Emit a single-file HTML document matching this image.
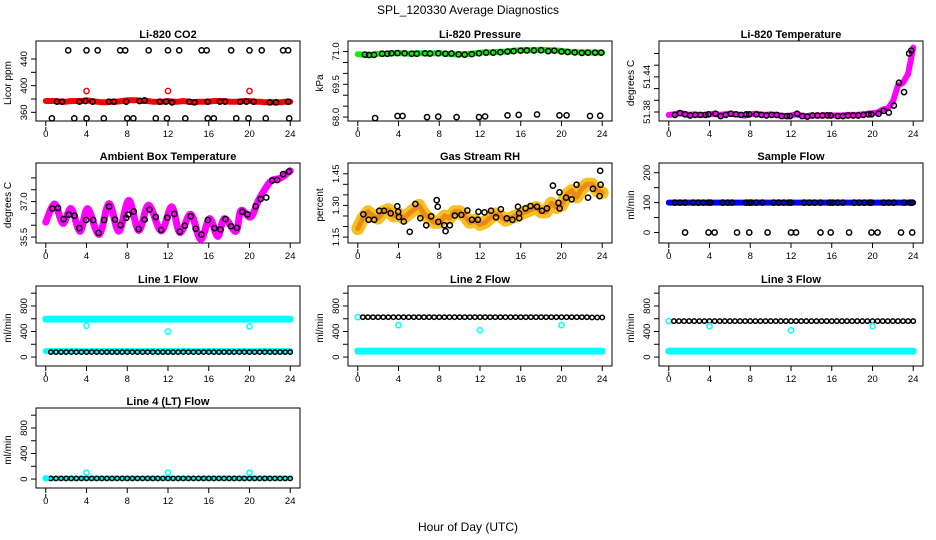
<!DOCTYPE html>
<html><head><meta charset="utf-8"><style>
body{margin:0;background:#fff;}
svg{display:block;font-family:"Liberation Sans",sans-serif;}
</style></head><body>
<svg id="chart" width="936" height="540" viewBox="0 0 936 540" xmlns="http://www.w3.org/2000/svg">
<rect x="0" y="0" width="936" height="540" fill="#fff"/>
<text x="468" y="14" font-size="12" text-anchor="middle">SPL_120330  Average Diagnostics</text>
<text x="468" y="531" font-size="12" text-anchor="middle">Hour of Day (UTC)</text>
</svg>
<script>
const HOURS=[0,0.5,1,1.5,2,2.5,3,3.5,4,4.5,5,5.5,6,6.5,7,7.5,8,8.5,9,9.5,10,10.5,11,11.5,12,12.5,13,13.5,14,14.5,15,15.5,16,16.5,17,17.5,18,18.5,19,19.5,20,20.5,21,21.5,22,22.5,23,23.5,24];
const X_TICKS=[0,4,8,12,16,20,24];
// CO2
const co2Red=[377,377,377,376,376,377,377,377,378,377,376,375,375,376,376,377,378,378,378,377,377,376,376,376,377,376,376,377,376,375,376,376,376,377,377,377,376,376,376,377,377,376,376,375,375,375,375,376,376];
const co2BlackHours=[1.1,1.6,3.3,3.9,4.6,6.2,6.7,7.9,9.2,9.7,11.2,11.8,12.4,14.1,14.6,15.9,17.1,17.6,19.1,19.7,20.4,22,22.6,23.8,2.2,4,5.1,7.3,7.8,10.1,12,13.1,15.3,15.8,18.2,20,21.2,23.3,23.8,0.6,2.8,4,5.7,8,8.6,10.8,11.9,13.7,15.9,16.5,18.7,19.9,21.6,23.9];
const co2BlackValues=[376,376,376,377,376,376,376,376,377,378,376,376,375,376,375,376,376,376,376,376,376,375,375,376,453,453,453,453,453,453,453,453,453,453,453,453,453,453,453,351,351,351,351,351,351,351,351,351,351,351,351,351,351,351];
const co2OutHours=[4,12,20];
const co2OutValues=[392,392,392];
// Pressure
const pressGreen=[70.88,70.86,70.85,70.86,70.9,70.9,70.91,70.92,70.93,70.92,70.9,70.91,70.93,70.92,70.9,70.92,70.93,70.91,70.89,70.87,70.88,70.87,70.9,70.92,70.95,70.96,70.96,70.98,70.99,71.0,71.02,71.05,71.06,71.07,71.06,71.07,71.08,71.07,71.06,71.05,71.03,71.0,70.98,70.97,70.96,70.96,70.95,70.95,70.95];
const pressBlackHours=[0.7,1.1,1.6,2.4,2.9,3.3,3.9,4.6,5.3,5.8,6.6,7.1,7.9,8.6,9.2,9.9,10.5,11.2,11.9,12.6,13.3,14.0,14.7,15.3,16.0,16.6,17.3,18.0,18.7,19.3,20.0,20.6,21.3,22.0,22.6,23.3,23.9,1.7,3.9,4.4,6.8,7.9,9.7,11.9,12.5,14.7,15.8,17.6,19.8,20.5,22.8,23.8];
const pressBlackValues=[70.86,70.84,70.85,70.9,70.9,70.92,70.93,70.92,70.9,70.9,70.92,70.91,70.92,70.9,70.91,70.87,70.86,70.88,70.92,70.95,70.95,70.97,71.0,71.02,71.04,71.05,71.05,71.06,71.02,71.04,71.0,70.98,70.96,70.94,70.95,70.95,70.95,67.95,68.05,68.05,68.0,68.02,68.0,68.0,68.03,68.08,68.1,68.12,68.08,68.08,68.05,68.06];
// Li-820 temperature
const tempMag=[51.375,51.376,51.378,51.377,51.375,51.376,51.375,51.375,51.376,51.377,51.375,51.376,51.377,51.376,51.375,51.374,51.376,51.377,51.376,51.375,51.376,51.375,51.374,51.373,51.374,51.376,51.374,51.373,51.374,51.374,51.374,51.375,51.374,51.374,51.374,51.375,51.375,51.375,51.376,51.377,51.378,51.379,51.384,51.386,51.398,51.425,51.43,51.445,51.49];
const tempBlackHours=[0.6,1.1,1.6,2.1,2.6,3.1,3.6,3.9,4.6,5.1,5.6,6.1,6.6,7.1,7.6,7.9,8.6,9.1,9.6,10.1,10.6,11.1,11.6,11.9,12.6,13.1,13.6,14.1,14.6,15.1,15.6,15.9,16.6,17.1,17.6,18.1,18.6,19.1,19.6,19.9,20.6,21.1,21.6,22.1,22.6,23.1,23.6,23.8];
const tempBlackValues=[51.375,51.378,51.376,51.374,51.375,51.375,51.375,51.376,51.377,51.373,51.375,51.377,51.376,51.375,51.376,51.376,51.376,51.375,51.374,51.375,51.375,51.373,51.373,51.373,51.377,51.373,51.372,51.374,51.374,51.374,51.374,51.374,51.373,51.373,51.374,51.374,51.374,51.375,51.376,51.376,51.377,51.382,51.379,51.391,51.43,51.414,51.48,51.485];
// Ambient box temperature
const ambHours=[0,0.87,1.68,2.49,3.37,4.11,5.24,6.21,7.18,8.15,9.12,10.1,11.33,12.36,13.17,14.24,15.21,16.08,16.89,17.54,18.67,19.16,20.13,20.94,22.07,23.04,24];
const ambValues=[36.13,36.9,36.08,36.7,35.74,36.7,35.61,36.91,35.75,37.05,35.78,36.85,35.76,36.78,35.69,36.46,35.4,36.28,35.53,36.28,35.74,36.62,36.35,37.1,37.85,37.99,38.3];
const ambBlackHours=[0.65,1.2,1.75,2.27,2.82,3.3,3.95,4.66,5.18,5.73,6.21,6.8,7.35,7.9,8.09,8.64,9.12,9.71,10.19,10.81,11.33,11.94,12.62,13.17,13.66,14.24,14.72,15.28,15.92,16.57,17.15,17.64,18.19,18.77,19.29,19.81,20.61,21.1,21.65,22.23,22.72,23.3,23.88];
const ambBlackValues=[36.7,36.73,36.26,36.45,36.4,35.88,36.22,36.22,35.68,36.22,36.79,36.24,36.01,36.31,36.45,36.58,35.84,36.24,36.66,36.35,35.8,36.32,36.48,35.73,35.98,36.38,35.85,35.61,36.22,35.88,35.82,36.26,35.96,35.89,36.57,36.46,36.8,37.11,37.17,37.89,37.91,38.16,38.27];
// Gas stream RH
const rhBand=[1.19,1.24,1.27,1.25,1.24,1.27,1.28,1.25,1.26,1.24,1.26,1.28,1.3,1.26,1.24,1.22,1.22,1.25,1.24,1.27,1.27,1.25,1.22,1.23,1.21,1.22,1.24,1.26,1.25,1.23,1.24,1.25,1.26,1.27,1.28,1.29,1.27,1.27,1.31,1.29,1.3,1.35,1.37,1.34,1.38,1.4,1.4,1.37,1.36];
const rhBlackHours=[0.55,1.07,1.61,2.1,2.58,3.23,3.88,3.97,4.04,4.52,5.1,5.65,6.14,6.72,7.2,7.75,7.85,7.91,8.49,8.62,9.04,9.53,10.17,10.76,11.21,11.79,11.85,12.44,13.08,13.57,14.05,14.63,15.18,15.73,15.83,15.85,16.47,16.96,17.6,18.09,18.57,19.16,19.7,19.8,19.82,20.45,21.0,21.48,22.61,23.09,23.8,23.84,23.74];
const rhBlackValues=[1.258,1.232,1.232,1.274,1.275,1.263,1.296,1.27,1.245,1.224,1.175,1.307,1.24,1.206,1.248,1.325,1.294,1.222,1.206,1.178,1.206,1.252,1.255,1.276,1.232,1.232,1.27,1.267,1.275,1.244,1.282,1.239,1.232,1.294,1.263,1.24,1.286,1.297,1.294,1.275,1.286,1.394,1.312,1.362,1.286,1.337,1.329,1.398,1.337,1.379,1.464,1.398,1.344];
// Sample flow
const sampleBlue=[100,100,100,100,100,100,100,100,100,100,100,100,100,100,100,100,100,100,100,100,100,100,100,100,100,100,100,100,100,100,100,100,100,100,100,100,100,100,100,100,100,100,100,100,100,100,100,100,100];
const sampleBlackHours=[0.6,1.1,1.6,2.4,2.9,3.4,3.9,4.1,5.3,5.8,6.2,7.6,7.9,8.1,8.6,9.2,10.3,10.8,11.3,11.8,12.0,13.3,13.8,14.3,14.9,15.8,16.1,16.6,17.1,18.2,18.7,19.2,19.7,19.9,21.1,21.6,22.1,23.1,23.7,23.9,1.6,3.9,4.5,6.7,7.9,9.7,12.0,12.5,14.9,15.9,17.7,19.9,20.5,22.8,23.9];
const sampleBlackValues=[100,100,100,100,100,100,100,100,100,100,100,100,100,100,100,100,100,100,100,100,100,100,100,100,100,100,100,100,100,100,100,100,100,100,100,100,100,100,100,100,0,0,0,0,0,0,0,0,0,0,0,0,0,0,0];
// Line flows
const line1Upper=[594,594,594,594,594,594,594,594,594,594,594,594,594,594,594,594,594,594,594,594,594,594,594,594,594,594,594,594,594,594,594,594,594,594,594,594,594,594,594,594,594,594,594,594,594,594,594,594,594];
const line1Lower=[94,94,94,94,94,94,94,94,94,94,94,94,94,94,94,94,94,94,94,94,94,94,94,94,94,94,94,94,94,94,94,94,94,94,94,94,94,94,94,94,94,94,94,94,94,94,94,94,94];
const line1Black=[78,78,78,78,78,78,78,78,78,78,78,78,78,78,78,78,78,78,78,78,78,78,78,78,78,78,78,78,78,78,78,78,78,78,78,78,78,78,78,78,78,78,78,78,78,78,78,78,78];
const line1OutValues=[490,400,480];
const line2Lower=[94,94,94,94,94,94,94,94,94,94,94,94,94,94,94,94,94,94,94,94,94,94,94,94,94,94,94,94,94,94,94,94,94,94,94,94,94,94,94,94,94,94,94,94,94,94,94,94,94];
const line2Black=[625,625,625,625,625,625,625,625,625,625,625,625,625,625,625,625,625,625,625,625,625,625,625,625,625,625,625,625,625,625,625,625,625,625,625,625,625,625,625,625,625,625,625,625,625,625,620,620,620];
const line2OutValues=[500,420,500];
const line3Lower=[94,94,94,94,94,94,94,94,94,94,94,94,94,94,94,94,94,94,94,94,94,94,94,94,94,94,94,94,94,94,94,94,94,94,94,94,94,94,94,94,94,94,94,94,94,94,94,94,94];
const line3Black=[563,563,563,563,563,563,563,563,563,563,563,563,563,563,563,563,563,563,563,563,563,563,563,563,563,563,563,563,563,563,563,563,563,563,563,563,563,563,563,563,563,563,563,563,563,563,563,563,563];
const line3OutValues=[484,420,484];
const line4Lower=[12,12,12,12,12,12,12,12,12,12,12,12,12,12,12,12,12,12,12,12,12,12,12,12,12,12,12,12,12,12,12,12,12,12,12,12,12,12,12,12,12,12,12,12,12,12,12,12,12];
const line4Black=[10,10,10,10,10,10,10,10,10,10,10,10,10,10,10,10,10,10,10,10,10,10,10,10,10,10,10,10,10,10,10,10,10,10,10,10,10,10,10,10,10,10,10,10,10,10,10,10,10];
const line4OutValues=[100,100,100];
const flowOutHours=[4,12,20];

const NS="http://www.w3.org/2000/svg";
const svg=document.getElementById('chart');
const COLX=[36,348,659], ROWY=[45,167,290,412], PW=264, PH=76;
function mk(tag,attrs,parent){const e=document.createElementNS(NS,tag);for(const k in attrs)e.setAttribute(k,attrs[k]);(parent||svg).appendChild(e);return e;}
function fmt(v,d){return v.toFixed(d);}
function panel(name,col,row,title,ylab,ylim,yticks,ylabels,dec){
  const x0=COLX[col],y0=ROWY[row];
  const g=mk('g',{});
  
  
  const sx=h=>x0+(h+0.96)/25.92*PW;
  const sy=v=>y0+PH-(v-ylim[0])/(ylim[1]-ylim[0])*PH;
  const t=mk('text',{x:x0+PW/2,y:y0-7,'font-size':11,'font-weight':'bold','text-anchor':'middle'},g);t.textContent=title;
  
  
  const yl=mk('text',{x:0,y:0,'font-size':10,'text-anchor':'middle',transform:`translate(${x0-25},${y0+PH/2}) rotate(-90)`},g);yl.textContent=ylab;
  
  
  const ax=mk('g',{stroke:'#000','stroke-width':1,fill:'none'},g);
  
  
  mk('path',{d:`M${sx(0)} ${y0+PH+6}V${y0+PH+10}`},ax);
  X_TICKS.forEach(h=>{mk('line',{x1:sx(h),x2:sx(h),y1:y0+PH,y2:y0+PH+5},ax);
    const l=mk('text',{x:sx(h),y:y0+PH+16,'font-size':9.5,'text-anchor':'middle',fill:'#000',stroke:'none'},g);l.textContent=h;
    
    });
  mk('line',{x1:sx(0),x2:sx(24),y1:y0+PH,y2:y0+PH},ax);
  mk('line',{x1:x0,x2:x0,y1:sy(yticks[0]),y2:sy(yticks[yticks.length-1])},ax);
  yticks.forEach(v=>{mk('line',{x1:x0-5,x2:x0,y1:sy(v),y2:sy(v)},ax);});
  ylabels.forEach(v=>{const l=mk('text',{x:0,y:0,'font-size':9.5,'text-anchor':'middle',transform:`translate(${x0-9},${sy(v)}) rotate(-90)`},g);l.textContent=fmt(v,dec);
    
    });
  mk('rect',{x:x0,y:y0-4,width:PW,height:PH+4,fill:'none',stroke:'#000','stroke-width':1},g);
  const plot=mk('g',{},g);
  return {sx,sy,g:plot};
}
function band(p,hs,vs,color,w,name){
  const pts=hs.map((h,i)=>p.sx(h).toFixed(1)+','+p.sy(vs[i]).toFixed(1)).join(' ');
  const e=mk('polyline',{points:pts,fill:'none',stroke:color,'stroke-width':w,'stroke-linecap':'round','stroke-linejoin':'round'},p.g);
  
  
}
function smooth(p,hs,vs,color,w,name){
  const P=hs.map((h,i)=>[p.sx(h),p.sy(vs[i])]);
  let d=`M${P[0][0]},${P[0][1]}`;
  for(let i=0;i<P.length-1;i++){const a=P[Math.max(0,i-1)],b=P[i],c=P[i+1],e2=P[Math.min(P.length-1,i+2)];
    d+=` C${b[0]+(c[0]-a[0])/6},${b[1]+(c[1]-a[1])/6} ${c[0]-(e2[0]-b[0])/6},${c[1]-(e2[1]-b[1])/6} ${c[0]},${c[1]}`;}
  const e=mk('path',{d,fill:'none',stroke:color,'stroke-width':w,'stroke-linecap':'round'},p.g);
  
  
}
function circles(p,hs,vs,color,name,r){
  hs.forEach((h,i)=>{const c=mk('circle',{cx:p.sx(h),cy:p.sy(vs[i]),r:r||2.6,fill:'none',stroke:color,'stroke-width':1.5},p.g);
    
    });
}
const FT=[0,200,400,600,800,1000], FL=[0,400,800], FLIM=[-140,1050];
const HB=HOURS.slice(1);
// CO2
let p=panel('co2',0,0,'Li-820 CO2','Licor ppm',[347,461],[360,380,400,420,440],[360,400,440],0);
band(p,HOURS,co2Red,'#f00',6,'co2-red-series');
circles(p,co2OutHours,co2OutValues,'#f00','co2-red-outlier');
circles(p,co2BlackHours,co2BlackValues,'#000','co2-black-point');
// Pressure
p=panel('pressure',1,0,'Li-820 Pressure','kPa',[67.82,71.3],[68,68.5,69,69.5,70,70.5,71],[68,69.5,71],1);
band(p,HOURS,pressGreen,'#1e1',6,'pressure-green-series');
circles(p,pressBlackHours,pressBlackValues,'#000','pressure-black-point');
// Temperature
p=panel('li820-temp',2,0,'Li-820 Temperature','degrees C',[51.3646,51.4945],[51.38,51.40,51.42,51.44,51.46,51.48],[51.38,51.44],2);
band(p,HOURS,tempMag,'#f0f',6,'temp-magenta-series');
circles(p,tempBlackHours,tempBlackValues,'#000','temp-black-point');
// Ambient
p=panel('ambient',0,1,'Ambient Box Temperature','degrees C',[35.25,38.46],[35.5,36,36.5,37,37.5,38],[35.5,37.0],1);
smooth(p,ambHours,ambValues,'#f0f',7,'ambient-magenta-series');
circles(p,ambBlackHours,ambBlackValues,'#000','ambient-black-point');
// RH
p=panel('rh',1,1,'Gas Stream RH','percent',[1.122,1.482],[1.15,1.2,1.25,1.3,1.35,1.4,1.45],[1.15,1.30,1.45],2);
band(p,HOURS,rhBand,'#f5c020',13,'rh-band');
band(p,HOURS,rhBand,'#ec8a18',5,'rh-band-core');
circles(p,rhBlackHours,rhBlackValues,'#000','rh-black-point');
// Sample flow
p=panel('sample-flow',2,1,'Sample Flow','ml/min',[-35,219],[0,50,100,150,200],[0,100,200],0);
band(p,HOURS,sampleBlue,'#00f',6,'sample-blue-series');
circles(p,sampleBlackHours,sampleBlackValues,'#000','sample-black-point');
// Line 1
p=panel('line1',0,2,'Line 1 Flow','ml/min',FLIM,FT,FL,0);
band(p,HOURS,line1Upper,'#0ff',7,'line1-cyan-upper');
band(p,HOURS,line1Lower,'#0ff',6,'line1-cyan-lower');
circles(p,HB,line1Black.slice(1),'#000','line1-black-point',2.2);
circles(p,flowOutHours,line1OutValues,'#0ff','line1-cyan-outlier');
// Line 2
p=panel('line2',1,2,'Line 2 Flow','ml/min',FLIM,FT,FL,0);
band(p,HOURS,line2Lower,'#0ff',7,'line2-cyan-lower');
circles(p,[0],[line2Black[0]],'#0ff','line2-cyan-start');
circles(p,HB,line2Black.slice(1),'#000','line2-black-point',2.2);
circles(p,flowOutHours,line2OutValues,'#0ff','line2-cyan-outlier');
// Line 3
p=panel('line3',2,2,'Line 3 Flow','ml/min',FLIM,FT,FL,0);
band(p,HOURS,line3Lower,'#0ff',7,'line3-cyan-lower');
circles(p,[0],[line3Black[0]],'#0ff','line3-cyan-start');
circles(p,HB,line3Black.slice(1),'#000','line3-black-point',2.2);
circles(p,flowOutHours,line3OutValues,'#0ff','line3-cyan-outlier');
// Line 4
p=panel('line4',0,3,'Line 4 (LT) Flow','ml/min',FLIM,FT,FL,0);
band(p,HOURS,line4Lower,'#0ff',5,'line4-cyan-lower');
circles(p,HB,line4Black.slice(1),'#000','line4-black-point',2.2);
circles(p,[0],[line4Lower[0]],'#0ff','line4-cyan-start');
circles(p,flowOutHours,line4OutValues,'#0ff','line4-cyan-outlier');
</script>
</body></html>
